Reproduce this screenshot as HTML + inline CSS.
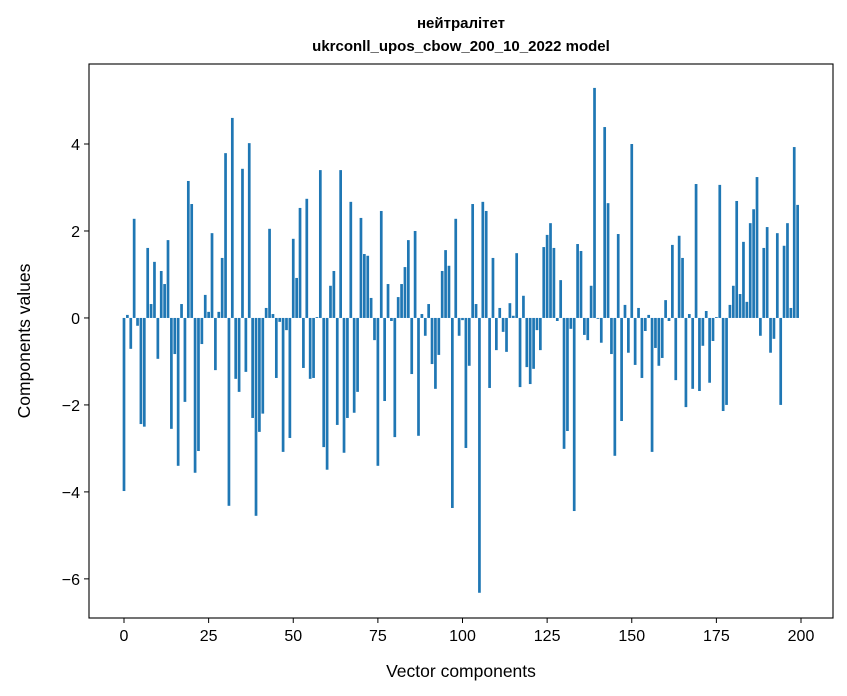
<!DOCTYPE html>
<html><head><meta charset="utf-8">
<style>
body{margin:0;background:#fff;}
svg{display:block;font-family:"Liberation Sans","DejaVu Sans",sans-serif;}
</style></head>
<body>
<svg id="chart" width="847" height="696" viewBox="0 0 847 696" xmlns="http://www.w3.org/2000/svg">
<rect x="0" y="0" width="847" height="696" fill="#fff"/>
<text x="461" y="28" text-anchor="middle" font-size="15" font-weight="bold">нейтралітет</text>
<text x="461" y="51" text-anchor="middle" font-size="15" font-weight="bold">ukrconll_upos_cbow_200_10_2022 model</text>
<g id="bars"></g>
<g id="xticks"></g>
<g id="yticks"></g>
<rect x="89" y="64" width="744" height="554" fill="none" stroke="#000" stroke-width="1.1"/>
<text x="461" y="677" text-anchor="middle" font-size="17.5">Vector components</text>
<text transform="translate(30,341) rotate(-90)" text-anchor="middle" font-size="17.5">Components values</text>
</svg>
<script>
const values = [-3.98,0.07,-0.71,2.28,-0.18,-2.44,-2.5,1.61,0.32,1.29,
-0.94,1.08,0.78,1.79,-2.55,-0.83,-3.4,0.32,-1.93,3.15,
2.62,-3.56,-3.06,-0.6,0.53,0.14,1.95,-1.2,0.14,1.38,
3.79,-4.32,4.6,-1.4,-1.7,3.43,-1.24,4.02,-2.3,-4.55,
-2.62,-2.2,0.23,2.05,0.09,-1.38,-0.09,-3.08,-0.28,-2.76,
1.82,0.92,2.53,-1.15,2.74,-1.4,-1.38,0.02,3.4,-2.97,
-3.49,0.74,1.08,-2.46,3.4,-3.1,-2.3,2.67,-2.18,-1.7,
2.3,1.47,1.43,0.46,-0.51,-3.4,2.46,-1.91,0.78,-0.07,
-2.74,0.48,0.78,1.17,1.79,-1.29,2.0,-2.71,0.09,-0.41,
0.32,-1.06,-1.63,-0.85,1.08,1.56,1.2,-4.37,2.28,-0.41,
-0.05,-2.99,-1.1,2.62,0.32,-6.32,2.67,2.46,-1.61,1.38,
-0.74,0.23,-0.32,-0.78,0.34,0.05,1.49,-1.59,0.51,-1.13,
-1.52,-1.17,-0.28,-0.74,1.63,1.91,2.18,1.61,-0.07,0.87,
-3.01,-2.6,-0.25,-4.44,1.7,1.54,-0.39,-0.51,0.74,5.29,
-0.02,-0.57,4.39,2.64,-0.83,-3.17,1.93,-2.37,0.3,-0.8,
4.0,-1.08,0.23,-1.38,-0.3,0.07,-3.08,-0.69,-1.1,-0.92,
0.41,-0.07,1.68,-1.43,1.89,1.38,-2.05,0.09,-1.63,3.08,
-1.68,-0.64,0.16,-1.49,-0.53,0.02,3.06,-2.14,-2.0,0.3,
0.74,2.69,0.55,1.75,0.37,2.18,2.5,3.24,-0.41,1.61,
2.09,-0.8,-0.48,1.95,-2.0,1.66,2.18,0.23,3.93,2.6];
const xTickLabels = [0,25,50,75,100,125,150,175,200];
const yTickLabels = [-6,-4,-2,0,2,4];

const NS="http://www.w3.org/2000/svg";
const L=89,R=833,T=64,B=618;
const xMin=-10.34,xMax=209.45,yMin=-6.9,yMax=5.84;
function xs(v){return L+(v-xMin)/(xMax-xMin)*(R-L);}
function ys(v){return B-(v-yMin)/(yMax-yMin)*(B-T);}
const bars=document.getElementById('bars');
values.forEach((v,i)=>{
  const r=document.createElementNS(NS,'rect');
  const x0=xs(i-0.4),x1=xs(i+0.4);
  const y0=ys(Math.max(v,0)),y1=ys(Math.min(v,0));
  r.setAttribute('x',x0);r.setAttribute('width',x1-x0);
  r.setAttribute('y',y0);r.setAttribute('height',Math.max(y1-y0,0.3));
  r.setAttribute('fill','#1f77b4');
  
  
  bars.appendChild(r);
});
const xg=document.getElementById('xticks');
xTickLabels.forEach(t=>{
  const x=xs(t);
  const l=document.createElementNS(NS,'line');
  l.setAttribute('x1',x);l.setAttribute('x2',x);l.setAttribute('y1',B);l.setAttribute('y2',B+5);
  l.setAttribute('stroke','#000');
  
  
  xg.appendChild(l);
  const tx=document.createElementNS(NS,'text');
  tx.setAttribute('x',x);tx.setAttribute('y',B+23);tx.setAttribute('text-anchor','middle');tx.setAttribute('font-size','16');
  tx.textContent=t;
  
  
  xg.appendChild(tx);
});
const yg=document.getElementById('yticks');
yTickLabels.forEach(t=>{
  const y=ys(t);
  const l=document.createElementNS(NS,'line');
  l.setAttribute('x1',L-5);l.setAttribute('x2',L);l.setAttribute('y1',y);l.setAttribute('y2',y);
  l.setAttribute('stroke','#000');
  
  
  yg.appendChild(l);
  const tx=document.createElementNS(NS,'text');
  tx.setAttribute('x',L-9);tx.setAttribute('y',y+6);tx.setAttribute('text-anchor','end');tx.setAttribute('font-size','16');
  tx.textContent=t<0?'\u2212'+Math.abs(t):String(t);
  
  
  yg.appendChild(tx);
});
</script>
</body></html>
